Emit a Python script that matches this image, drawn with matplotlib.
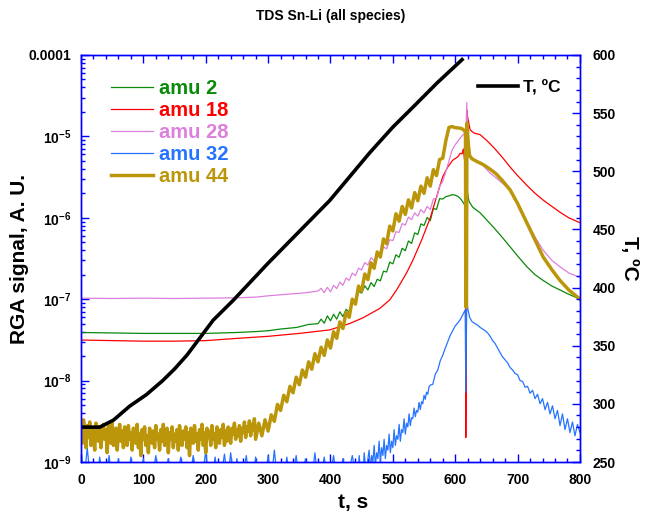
import numpy as np
import matplotlib
matplotlib.use("Agg")
import matplotlib.pyplot as plt
from matplotlib.ticker import LogLocator, MultipleLocator, FuncFormatter, NullFormatter

plt.rcParams['font.family'] = ['Liberation Sans', 'DejaVu Sans']
plt.rcParams['font.weight'] = 'bold'
plt.rcParams['mathtext.fontset'] = 'custom'
plt.rcParams['mathtext.rm'] = 'Liberation Sans:bold'
plt.rcParams['mathtext.bf'] = 'Liberation Sans:bold'
plt.rcParams['mathtext.it'] = 'Liberation Sans:bold:italic'
plt.rcParams['mathtext.default'] = 'bf'

# ---------------- data ----------------
labels = ["amu 2", "amu 18", "amu 28", "amu 32", "amu 44"]
colors = ["#0a8a0a", "#ff0000", "#dd80dd", "#2673ff", "#bb960a"]

# temperature (right axis)
t_T = [0, 30, 52, 78, 105, 131, 150, 170, 191, 212, 244, 300, 399, 463, 500, 532, 571, 611]
T_C = [280, 280, 286, 298, 308, 320, 330, 342, 357, 372, 389, 421, 475, 516, 538, 555, 576, 596]

# amu 2
t2 = [0, 50, 100, 150, 200, 250, 280, 300, 320, 346, 365, 380,
      385, 390, 395, 400, 405, 410, 415, 420, 425, 430, 435, 440, 445, 450,
      455, 460, 465, 470, 475, 480, 485, 490, 495, 500, 505, 510, 515, 520,
      525, 530, 535, 540, 545, 550, 555, 560, 565, 570, 575, 580, 585, 590,
      595, 600, 605, 610, 615, 617, 619, 622, 628, 640, 650, 661, 675, 688,
      700, 715, 728, 741, 755, 768, 782, 800]
v2 = [3.9e-8, 3.85e-8, 3.8e-8, 3.8e-8, 3.8e-8, 3.9e-8, 4.0e-8, 4.1e-8, 4.3e-8, 4.5e-8, 4.9e-8, 5.0e-8,
      5.69e-8, 5.07e-8, 6.24e-8, 5.43e-8, 6.53e-8, 5.69e-8, 7.0e-8, 6.1e-8, 7.5e-8, 7.0e-8, 9.44e-8, 9.23e-8, 1.24e-7, 1.19e-7,
      1.46e-7, 1.30e-7, 1.60e-7, 1.43e-7, 1.76e-7, 1.68e-7, 2.21e-7, 2.16e-7, 2.85e-7, 2.72e-7, 3.51e-7, 3.27e-7, 4.22e-7, 3.94e-7,
      5.19e-7, 4.84e-7, 6.53e-7, 6.24e-7, 8.41e-7, 8.04e-7, 1.01e-6, 9.23e-7, 1.30e-6, 1.27e-6, 1.72e-6, 1.70e-6, 1.82e-6, 1.86e-6,
      1.92e-6, 1.90e-6, 1.82e-6, 1.66e-6, 1.45e-6, 1.4e-6, 2.2e-6, 1.6e-6, 1.35e-6, 1.15e-6, 9.5e-7, 7.7e-7, 5.8e-7, 4.4e-7,
      3.4e-7, 2.5e-7, 2.0e-7, 1.7e-7, 1.45e-7, 1.3e-7, 1.15e-7, 1.0e-7]

# amu 18
t18 = [0, 50, 100, 150, 200, 250, 300, 350, 399, 430, 452, 479, 495, 506, 522, 532, 546, 560,
       570, 580, 588, 596, 604, 608, 611, 613, 615, 616.5, 617, 618.5, 620, 624, 630, 640, 650, 661,
       675, 688, 700, 715, 728, 741, 755, 768, 782, 800]
v18 = [3.15e-8, 3.1e-8, 3.05e-8, 3.05e-8, 3.1e-8, 3.3e-8, 3.5e-8, 3.8e-8, 4.2e-8, 5.0e-8, 5.9e-8, 7.7e-8, 9.8e-8, 1.3e-7, 2.1e-7, 3.0e-7, 5.3e-7, 1.0e-6,
       1.8e-6, 3.2e-6, 4.2e-6, 5.1e-6, 5.6e-6, 6.2e-6, 6.1e-6, 7.0e-6, 5.1e-6, 5.0e-6, 2.0e-9, 2.1e-5, 1.7e-5, 1.2e-5, 1.1e-5, 1.05e-5, 9.0e-6, 7.4e-6,
       5.6e-6, 4.2e-6, 3.3e-6, 2.5e-6, 2.0e-6, 1.65e-6, 1.38e-6, 1.17e-6, 1.0e-6, 8.7e-7]

# amu 28
t28 = [0, 50, 100, 150, 200, 250, 280, 300, 330, 360, 380,
       385, 390, 395, 400, 405, 410, 415, 420, 425, 430, 435, 440, 445, 450,
       455, 460, 465, 470, 475, 480, 485, 490, 495, 500, 505, 510, 515, 520,
       525, 530, 535, 540, 545, 550, 555, 560, 565, 570, 575, 580, 585, 590,
       595, 600, 605, 610, 616, 617, 618.5, 620, 622, 627, 640, 655, 670, 688,
       700, 715, 728, 741, 755, 768, 782, 800]
v28 = [1.03e-7, 1.02e-7, 1.03e-7, 1.02e-7, 1.03e-7, 1.04e-7, 1.06e-7, 1.1e-7, 1.15e-7, 1.2e-7, 1.26e-7,
       1.36e-7, 1.20e-7, 1.40e-7, 1.23e-7, 1.48e-7, 1.35e-7, 1.62e-7, 1.48e-7, 1.82e-7, 1.70e-7, 2.09e-7, 1.95e-7, 2.40e-7, 2.29e-7,
       2.82e-7, 2.63e-7, 3.24e-7, 2.95e-7, 3.63e-7, 3.39e-7, 4.37e-7, 4.17e-7, 5.37e-7, 5.25e-7, 6.76e-7, 6.61e-7, 8.51e-7, 8.13e-7,
       1.02e-6, 9.5e-7, 1.15e-6, 1.05e-6, 1.26e-6, 1.15e-6, 1.38e-6, 1.26e-6, 1.70e-6, 1.74e-6, 2.45e-6, 2.8e-6, 3.7e-6, 5.0e-6,
       6.8e-6, 7.9e-6, 8.9e-6, 1.0e-5, 1.1e-5, 1.0e-5, 2.6e-5, 1.0e-5, 5.8e-6, 5.3e-6, 4.8e-6, 3.6e-6, 2.9e-6, 2.2e-6,
       1.5e-6, 9.0e-7, 5.8e-7, 4.0e-7, 3.0e-7, 2.5e-7, 2.1e-7, 1.85e-7]

# amu 32
t32 = list(range(0, 441, 5)) + list(range(444, 559, 2)) + list(range(560, 617, 4)) + \
      [617, 618.5, 620, 623, 627] + list(range(632, 801, 4))
v32 = [1.4e-9, 0.6e-9, 1.5e-9, 0.6e-9, 0.7e-9, 0.6e-9, 1.15e-9, 0.6e-9, 0.6e-9, 1.2e-9,
       0.6e-9, 0.6e-9, 1.1e-9, 0.6e-9, 0.7e-9, 0.6e-9, 1.15e-9, 0.6e-9, 0.6e-9, 0.7e-9,
       1.1e-9, 0.6e-9, 0.6e-9, 0.7e-9, 1.2e-9, 0.6e-9, 0.6e-9, 0.7e-9, 1.1e-9, 0.6e-9,
       0.6e-9, 0.7e-9, 1.15e-9, 0.6e-9, 0.6e-9, 0.7e-9, 1.2e-9, 0.6e-9, 0.6e-9, 0.7e-9,
       1.35e-9, 0.6e-9, 0.6e-9, 1.15e-9, 0.6e-9, 0.7e-9, 1.25e-9, 0.6e-9, 1.3e-9, 0.6e-9,
       1.1e-9, 0.6e-9, 0.7e-9, 1.2e-9, 0.6e-9, 0.6e-9, 1.15e-9, 0.6e-9, 0.7e-9, 0.6e-9,
       1.2e-9, 0.6e-9, 1.4e-9, 0.6e-9, 0.7e-9, 0.6e-9, 1.15e-9, 0.6e-9, 0.7e-9, 1.2e-9,
       0.6e-9, 0.7e-9, 1.1e-9, 0.6e-9, 0.6e-9, 1.3e-9, 0.6e-9, 0.7e-9, 1.15e-9, 0.6e-9,
       0.7e-9, 1.2e-9, 0.6e-9, 0.7e-9, 1.1e-9, 0.6e-9, 0.8e-9, 1.2e-9, 0.7e-9,
       # 444 .. 558 step 2
       0.7e-9, 1.2e-9, 0.8e-9, 1.0e-9, 0.6e-9, 1.3e-9, 0.9e-9, 0.7e-9, 1.1e-9, 1.4e-9,
       0.8e-9, 1.2e-9, 1.0e-9, 1.6e-9, 0.9e-9, 1.3e-9, 1.1e-9, 1.8e-9, 1.0e-9, 1.5e-9,
       1.2e-9, 1.9e-9, 1.1e-9, 1.6e-9, 1.4e-9, 2.2e-9, 1.3e-9, 1.8e-9, 1.5e-9, 2.5e-9,
       1.6e-9, 2.1e-9, 1.9e-9, 2.9e-9, 1.8e-9, 2.5e-9, 2.3e-9, 3.4e-9, 2.2e-9, 3.0e-9,
       2.7e-9, 3.9e-9, 2.8e-9, 3.5e-9, 3.4e-9, 4.6e-9, 3.6e-9, 4.3e-9, 4.1e-9, 5.4e-9,
       4.4e-9, 5.5e-9, 5.2e-9, 6.6e-9, 5.9e-9, 7.2e-9, 6.8e-9, 8.4e-9,
       # 560 .. 616 step 4
       8.8e-9, 9.0e-9, 1.2e-8, 1.35e-8, 1.75e-8, 2.05e-8, 2.5e-8, 3.0e-8, 3.6e-8, 4.1e-8,
       4.7e-8, 5.1e-8, 5.6e-8, 6.4e-8, 7.4e-8,
       7.2e-9, 1.05e-7, 7.8e-8, 6.0e-8, 5.3e-8,
       # 632 .. 800 step 4
       5.0e-8, 4.8e-8, 4.5e-8, 4.3e-8, 4.1e-8, 3.85e-8, 3.5e-8, 3.1e-8, 2.85e-8, 2.5e-8,
       2.2e-8, 1.95e-8, 1.8e-8, 1.65e-8, 1.45e-8, 1.35e-8, 1.22e-8, 1.18e-8, 1.0e-8, 9.8e-9,
       8.3e-9, 8.5e-9, 7.0e-9, 7.6e-9, 6.0e-9, 6.8e-9, 5.2e-9, 6.0e-9, 4.4e-9, 5.4e-9,
       3.9e-9, 4.9e-9, 3.4e-9, 4.3e-9, 2.8e-9, 3.9e-9, 2.5e-9, 3.4e-9, 2.3e-9, 3.1e-9,
       2.1e-9, 2.9e-9, 2.3e-9]

# amu 44
t44 = list(range(0, 279, 2)) + list(range(280, 586, 5)) + \
      [590, 595, 600, 605, 610, 615, 616.5, 617, 618, 618.8, 621, 623, 627, 635, 645, 655, 665, 675,
       688, 700, 715, 728, 741, 755, 768, 782, 800]
v44 = [2.9e-9, 1.7e-9, 3.3e-9, 2.2e-9, 1.5e-9, 2.8e-9, 2.0e-9, 3.1e-9, 1.6e-9, 2.6e-9,
       2.1e-9, 1.4e-9, 3.0e-9, 2.3e-9, 1.8e-9, 2.7e-9, 1.5e-9, 2.4e-9, 2.9e-9, 1.9e-9,
       2.5e-9, 1.3e-9, 2.8e-9, 2.1e-9, 1.7e-9, 3.0e-9, 1.6e-9, 2.3e-9, 2.6e-9, 1.4e-9,
       2.2e-9, 2.9e-9, 1.8e-9, 2.4e-9, 1.5e-9, 2.7e-9, 2.0e-9, 1.6e-9, 2.8e-9, 1.9e-9,
       2.3e-9, 1.4e-9, 2.6e-9, 2.0e-9, 1.7e-9, 2.9e-9, 1.5e-9, 2.2e-9, 1.2e-9, 2.5e-9,
       1.9e-9, 2.7e-9, 1.6e-9, 2.1e-9, 1.3e-9, 2.6e-9, 2.0e-9, 1.7e-9, 2.4e-9, 1.5e-9,
       2.8e-9, 1.9e-9, 2.2e-9, 1.4e-9, 2.5e-9, 1.8e-9, 2.9e-9, 1.6e-9, 2.1e-9, 2.6e-9,
       1.3e-9, 2.3e-9, 1.9e-9, 2.7e-9, 1.5e-9, 2.2e-9, 1.8e-9, 2.5e-9, 1.4e-9, 2.8e-9,
       2.0e-9, 1.6e-9, 2.4e-9, 1.9e-9, 2.7e-9, 1.5e-9, 2.3e-9, 1.2e-9, 2.6e-9, 2.0e-9,
       1.7e-9, 2.8e-9, 1.8e-9, 2.2e-9, 1.4e-9, 2.5e-9, 1.9e-9, 2.9e-9, 1.6e-9, 2.3e-9,
       1.3e-9, 2.6e-9, 2.0e-9, 2.4e-9, 1.6e-9, 2.8e-9, 1.9e-9, 2.2e-9, 1.5e-9, 2.7e-9,
       2.1e-9, 1.7e-9, 2.5e-9, 2.0e-9, 2.9e-9, 1.6e-9, 2.4e-9, 1.8e-9, 2.7e-9, 2.1e-9,
       1.7e-9, 2.6e-9, 2.2e-9, 3.0e-9, 1.9e-9, 2.5e-9, 2.1e-9, 2.8e-9, 1.8e-9, 2.6e-9,
       2.3e-9, 3.1e-9, 2.0e-9, 2.7e-9, 2.4e-9, 3.2e-9, 2.1e-9, 2.9e-9, 2.5e-9, 3.4e-9,
       # 280 .. 585 step 5
       1.9e-9, 3.0e-9, 2.1e-9, 3.3e-9,
       2.4e-9, 3.8e-9, 3.16e-9, 5.1e-9, 4.3e-9, 6.6e-9, 5.5e-9, 8.5e-9, 7.1e-9, 1.10e-8,
       8.9e-9, 1.35e-8, 1.10e-8, 1.70e-8, 1.38e-8, 2.14e-8, 1.70e-8, 2.57e-8, 2.04e-8, 3.16e-8,
       2.51e-8, 3.98e-8, 3.31e-8, 5.25e-8, 4.37e-8, 6.9e-8, 6.0e-8, 1.0e-7, 8.7e-8, 1.45e-7,
       1.26e-7, 2.04e-7, 1.74e-7, 2.8e-7, 2.4e-7, 3.8e-7, 3.3e-7, 5.5e-7, 4.8e-7, 7.9e-7,
       6.9e-7, 1.12e-6, 9.1e-7, 1.38e-6, 1.10e-6, 1.66e-6, 1.32e-6, 2.04e-6, 1.62e-6, 2.45e-6,
       2.0e-6, 3.1e-6, 2.45e-6, 3.9e-6, 3.3e-6, 5.2e-6, 5.4e-6, 8.9e-6,
       # 590 ..
       1.29e-5, 1.32e-5, 1.28e-5, 1.27e-5, 1.25e-5, 1.18e-5, 1.1e-5, 8e-8, 8e-8, 1.45e-5, 8.0e-6, 5.8e-6, 5.3e-6, 4.9e-6, 4.5e-6, 4.0e-6, 3.5e-6, 2.9e-6,
       2.2e-6, 1.5e-6, 8.6e-7, 5.3e-7, 3.3e-7, 2.3e-7, 1.7e-7, 1.3e-7, 1.0e-7]

series_t = [t2, t18, t28, t32, t44]
series_v = [v2, v18, v28, v32, v44]

x_ticks = [0, 100, 200, 300, 400, 500, 600, 700, 800]
y_ticks = [1e-9, 1e-8, 1e-7, 1e-6, 1e-5, 1e-4]
T_ticks = [250, 300, 350, 400, 450, 500, 550, 600]

# ---------------- figure ----------------
fig = plt.figure(figsize=(6.48, 5.13), dpi=100)
ax = fig.add_axes([0.125, 0.0994, 0.770, 0.7934])

widths = [0.9, 0.9, 0.9, 0.9, 2.5]
lines = []
for tt, vv, c, lab, lw in zip(series_t, series_v, colors, labels, widths):
    ln, = ax.plot(tt, vv, color=c, lw=lw, label=lab)
    lines.append(ln)

ax.set_yscale('log')
ax.set_xlim(0, 800)
ax.set_ylim(1e-9, 1e-4)
ax.set_xticks(x_ticks)
ax.xaxis.set_minor_locator(MultipleLocator(20))
ax.set_yticks(y_ticks)
ax.yaxis.set_minor_locator(LogLocator(base=10, subs=np.arange(2, 10)))
ax.yaxis.set_minor_formatter(NullFormatter())


def yfmt(v, pos):
    e = int(round(np.log10(v)))
    if e == -4:
        return "0.0001"
    return r"$\mathbf{10^{%d}}$" % e


ax.yaxis.set_major_formatter(FuncFormatter(yfmt))

blue = '#0000ff'
for s in ax.spines.values():
    s.set_color(blue)
    s.set_linewidth(1.0)
ax.tick_params(axis='both', which='both', direction='in', colors=blue,
               labelcolor='black', top=True, width=1.0)
ax.tick_params(axis='both', which='major', length=6, labelsize=10)
ax.tick_params(axis='both', which='minor', length=3)
ax.tick_params(axis='x', which='major', pad=8)
ax.tick_params(axis='y', which='major', pad=7)
for lab in ax.get_xticklabels() + ax.get_yticklabels():
    lab.set_fontweight('bold')

ax.set_xlabel("t, s", fontsize=15, fontweight='bold')
ax.xaxis.set_label_coords(0.545, -0.075)
ax.set_ylabel("RGA signal, A. U.", fontsize=15, fontweight='bold', labelpad=0)

leg = ax.legend(handles=lines, loc='upper left', bbox_to_anchor=(0.06, 0.941),
                frameon=False, handlelength=2.1, handletextpad=0.28,
                labelspacing=0.15, borderpad=0, borderaxespad=0,
                prop={'weight': 'bold', 'size': 14.5})
for txt, c in zip(leg.get_texts(), colors):
    txt.set_color(c)

ax2 = ax.twinx()
lnT, = ax2.plot(t_T, T_C, color='black', lw=2.6, label="T, ºC")
ax2.set_ylim(250, 600)
ax2.set_yticks(T_ticks)
ax2.yaxis.set_minor_locator(MultipleLocator(10))
for s in ax2.spines.values():
    s.set_color(blue)
    s.set_linewidth(1.0)
ax2.tick_params(axis='y', which='both', direction='in', colors=blue, labelcolor='black', width=1.0)
ax2.tick_params(axis='y', which='major', length=6, labelsize=10, pad=9)
ax2.tick_params(axis='y', which='minor', length=3)
for lab in ax2.get_yticklabels():
    lab.set_fontweight('bold')
ax2.set_ylabel("T, ºC", fontsize=15, fontweight='bold', rotation=270, labelpad=17)

ax2.legend(handles=[lnT], loc='upper left', bbox_to_anchor=(0.796, 0.94),
           frameon=False, handlelength=2.3, handletextpad=0.3, borderpad=0, borderaxespad=0,
           prop={'weight': 'bold', 'size': 12.5})

fig.text(0.511, 0.968, "TDS Sn-Li (all species)", ha='center', va='center',
         fontsize=10, fontweight='bold')

fig.savefig("out.png", dpi=100)
